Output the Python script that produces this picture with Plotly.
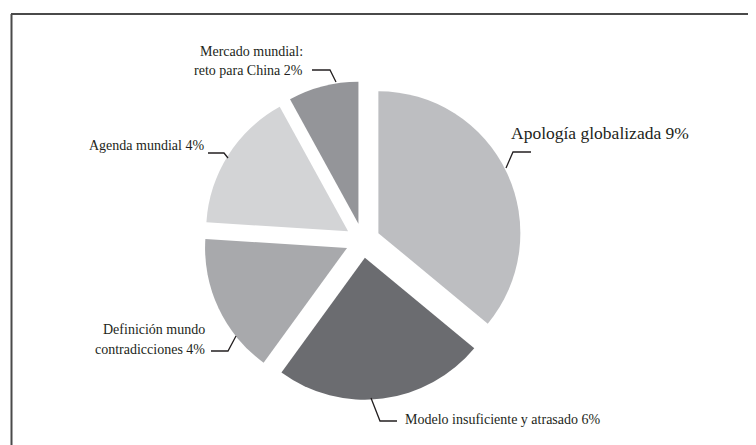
import plotly.graph_objects as go

# ---- data ----
categories = ["Apología globalizada", "Modelo insuficiente y atrasado",
              "Definición mundo contradicciones", "Agenda mundial",
              "Mercado mundial: reto para China"]
values = [9, 6, 4, 4, 2]
colors = ["#bdbec1", "#6b6c70", "#a8a9ac", "#d3d4d6", "#949599"]

W, H = 756, 445
def px(x):
    return x / W
def py(y):
    return 1 - y / H

fig = go.Figure(go.Pie(
    labels=categories,
    values=values,
    sort=False,
    direction="clockwise",
    rotation=0,
    pull=[0.122] * 5,
    marker=dict(colors=colors, line=dict(width=0)),
    textinfo="none",
    hoverinfo="label+value",
    domain=dict(x=[0.2585, 0.6799], y=[0.1195, 0.8355]),
    showlegend=False,
))

font_small = dict(family="Liberation Serif", size=14, color="#231f20")
font_big = dict(family="Liberation Serif", size=17.5, color="#231f20")

annotations = [
    dict(text="Apología globalizada 9%", x=px(501), y=py(125), xanchor="left", yanchor="middle", font=font_big),
    dict(text="Modelo insuficiente y atrasado 6%", x=px(395), y=py(411), xanchor="left", yanchor="middle", font=font_small),
    dict(text="Definición mundo", x=px(199), y=py(321), xanchor="right", yanchor="middle", font=font_small),
    dict(text="contradicciones 4%", x=px(199), y=py(341), xanchor="right", yanchor="middle", font=font_small),
    dict(text="Agenda mundial 4%", x=px(198), y=py(137), xanchor="right", yanchor="middle", font=font_small),
    dict(text="Mercado mundial:", x=px(297), y=py(43), xanchor="right", yanchor="middle", font=font_small),
    dict(text="reto para China 2%", x=px(297), y=py(63), xanchor="right", yanchor="middle", font=font_small),
]
for a in annotations:
    a.update(xref="paper", yref="paper", showarrow=False)

def leader(points):
    d = "M " + " L ".join(f"{px(x)},{py(y)}" for x, y in points)
    return dict(type="path", path=d, xref="paper", yref="paper",
                line=dict(color="#231f20", width=1.3))

shapes = [
    leader([(498, 160), (505, 144), (523, 144)]),
    leader([(363, 390), (372, 413), (389, 413)]),
    leader([(228, 328), (220, 343), (203, 343)]),
    leader([(220, 150), (216, 145), (200, 145)]),
    leader([(328, 74), (322, 62), (304, 62)]),
    # frame (top and left edges)
    dict(type="line", xref="paper", yref="paper", x0=px(3), x1=1, y0=py(6), y1=py(6),
         line=dict(color="#4a4a4a", width=2)),
    dict(type="line", xref="paper", yref="paper", x0=px(3.5), x1=px(3.5), y0=py(6), y1=0,
         line=dict(color="#4a4a4a", width=2)),
]

fig.update_layout(
    width=W, height=H,
    margin=dict(l=0, r=0, t=0, b=0),
    paper_bgcolor="white",
    plot_bgcolor="white",
    annotations=annotations,
    shapes=shapes,
)

fig.write_html("out.html")
